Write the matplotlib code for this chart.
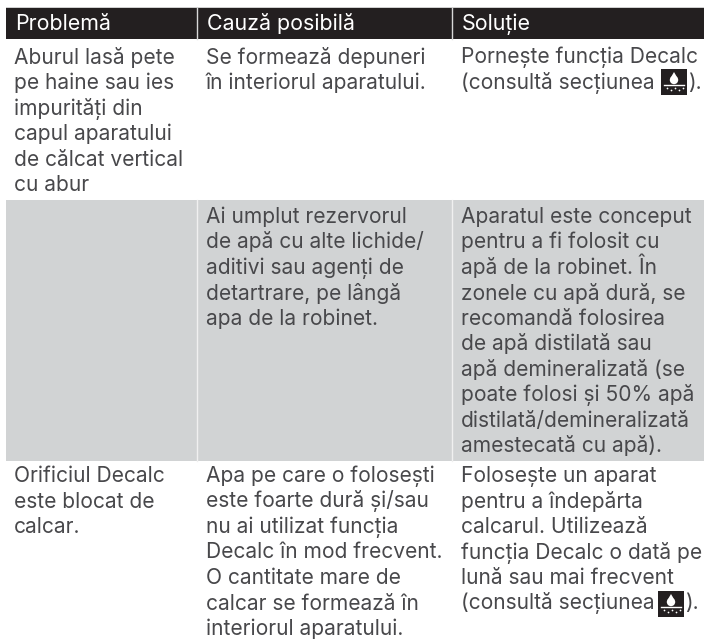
import matplotlib
matplotlib.use('Agg')
import matplotlib.pyplot as plt
from matplotlib.patches import Rectangle, Circle, Polygon

# table content
headers = ['Problemă', 'Cauză posibilă', 'Soluție']

col1 = [
    ['Aburul lasă pete', 'pe haine sau ies', 'impurități din', 'capul aparatului', 'de călcat vertical', 'cu abur'],
    [],
    ['Orificiul Decalc', 'este blocat de', 'calcar.'],
]
col2 = [
    ['Se formează depuneri', 'în interiorul aparatului.'],
    ['Ai umplut rezervorul', 'de apă cu alte lichide/', 'aditivi sau agenți de', 'detartrare, pe lângă', 'apa de la robinet.'],
    ['Apa pe care o folosești', 'este foarte dură și/sau', 'nu ai utilizat funcția', 'Decalc în mod frecvent.', 'O cantitate mare de', 'calcar se formează în', 'interiorul aparatului.'],
]
col3 = [
    ['Pornește funcția Decalc', '(consultă secțiunea'],
    ['Aparatul este conceput', 'pentru a fi folosit cu', 'apă de la robinet. În', 'zonele cu apă dură, se', 'recomandă folosirea', 'de apă distilată sau', 'apă demineralizată (se', 'poate folosi și 50% apă', 'distilată/demineralizată', 'amestecată cu apă).'],
    ['Folosește un aparat', 'pentru a îndepărta', 'calcarul. Utilizează', 'funcția Decalc o dată pe', 'lună sau mai frecvent', '(consultă secțiunea'],
]

dark = '#231f20'
gray = '#d1d3d4'
text_col = '#48484b'
font = 'Inter'
size = 15.1

fig = plt.figure(figsize=(7.04, 6.4), dpi=100)
ax = fig.add_axes([0, 0, 1, 1])
ax.set_xlim(0, 704)
ax.set_ylim(640, 0)
ax.axis('off')

col_x = [6, 197, 452, 704]
text_x = [14, 206, 461]
row_y = [200, 462]
baseline = [63.5, 223, 482]
line_h = 25.5

# header band
ax.add_patch(Rectangle((col_x[0], 7), col_x[3] - col_x[0], 1.2, color='#cfcfcf', lw=0))
ax.add_patch(Rectangle((col_x[0], 8), col_x[3] - col_x[0], 31, color=dark, lw=0))
for i, h in enumerate(headers):
    ax.text(text_x[i] + 1, 30, h, color='white', fontsize=15.4, family=font, va='baseline')

# gray second row
ax.add_patch(Rectangle((col_x[0], row_y[0]), col_x[3] - col_x[0], row_y[1] - row_y[0] - 1, color=gray, lw=0))
for x in col_x[1:3]:
    ax.plot([x, x], [8, 39], color='#d8d8d8', lw=1)
    ax.plot([x, x], [row_y[0], row_y[1] - 1], color='#f0f0f0', lw=1)

for c, col in enumerate([col1, col2, col3]):
    for r, lines in enumerate(col):
        for k, line in enumerate(lines):
            ax.text(text_x[c], baseline[r] + k * line_h, line,
                    color=text_col, fontsize=size, family=font, va='baseline')


def icon(x, y):
    ax.add_patch(Rectangle((x, y), 26, 26, color=dark, lw=0))
    ax.add_patch(Circle((x + 13, y + 11), 4.2, color='white', lw=0))
    ax.add_patch(Polygon([(x + 13, y + 3), (x + 9.2, y + 9.5), (x + 16.8, y + 9.5)], color='white', lw=0))
    ax.plot([x + 3, x + 23], [y + 16, y + 16], color='white', lw=1)
    ax.plot([x + 6, x + 10, x + 14, x + 18, x + 22], [y + 19, y + 21, y + 19, y + 21, y + 19], ls='', marker='.', color='white', ms=2.5, mew=0)


icon(661, 69)
ax.text(688, baseline[0] + line_h, ').', color=text_col, fontsize=size, family=font, va='baseline')
icon(658, 591)
ax.text(685, baseline[2] + 5 * line_h, ').', color=text_col, fontsize=size, family=font, va='baseline')

fig.savefig('out.png', dpi=100)
